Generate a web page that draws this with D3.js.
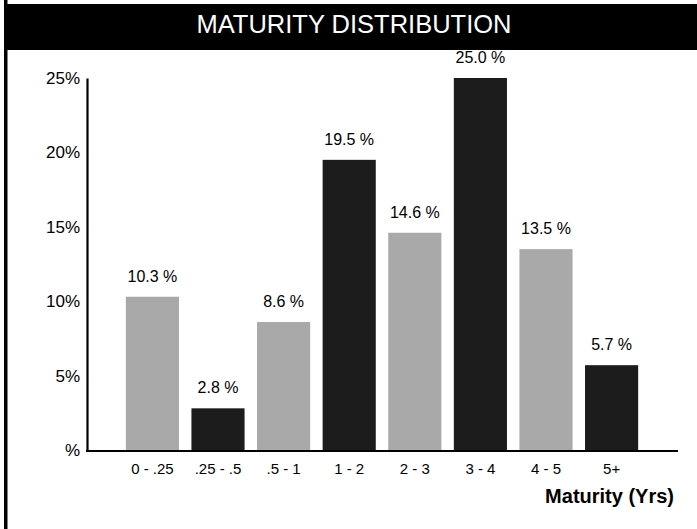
<!DOCTYPE html>
<html>
<head>
<meta charset="utf-8">
<script src="https://cdn.jsdelivr.net/npm/d3@7"></script>
<style>
  html, body { margin: 0; padding: 0; background: #fff; }
  svg { display: block; }
  text { font-family: "Liberation Sans", Arial, sans-serif; }
</style>
</head>
<body>
<svg id="chart" width="697" height="529"></svg>
<script>
// ---- data ----
const categories = ["0 - .25", ".25 - .5", ".5 - 1", "1 - 2", "2 - 3", "3 - 4", "4 - 5", "5+"];
const values = [10.3, 2.8, 8.6, 19.5, 14.6, 25.0, 13.5, 5.7];
const valueLabels = ["10.3 %", "2.8 %", "8.6 %", "19.5 %", "14.6 %", "25.0 %", "13.5 %", "5.7 %"];
const shades = ["light", "dark", "light", "dark", "light", "dark", "light", "dark"];
const yTickValues = [0, 5, 10, 15, 20, 25];
const yTickLabels = ["%", "5%", "10%", "15%", "20%", "25%"];
const title = "MATURITY DISTRIBUTION";
const xTitle = "Maturity (Yrs)";

// ---- drawing ----
const svg = d3.select("#chart");
const W = 697, H = 529;

const x = d3.scaleBand().domain(categories).range([116, 648]).paddingInner(0.19).paddingOuter(0.15);
const y = d3.scaleLinear().domain([0, 25]).range([450, 78]);
const fillFor = { light: "#a9a9a9", dark: "#1c1c1c" };

// left border
svg.append("rect").attr("x", 4).attr("y", 0).attr("width", 3.5).attr("height", H).attr("fill", "#000");

// title bar
svg.append("rect").attr("x", 7).attr("y", 4).attr("width", W - 7).attr("height", 46).attr("fill", "#000");
svg.append("text").attr("x", 354).attr("y", 33).attr("text-anchor", "middle")
  .attr("fill", "#fff").attr("font-size", 25.5).text(title);

// bars
svg.append("g").selectAll("rect").data(values).join("rect")
  .attr("x", (d, i) => x(categories[i]))
  .attr("y", d => y(d))
  .attr("width", x.bandwidth())
  .attr("height", d => y(0) - y(d))
  .attr("fill", (d, i) => fillFor[shades[i]]);

// value labels
svg.append("g").selectAll("text").data(values).join("text")
  .attr("x", (d, i) => x(categories[i]) + x.bandwidth() / 2)
  .attr("y", d => y(d) - 15)
  .attr("text-anchor", "middle")
  .attr("font-size", 16)
  .attr("fill", "#000")
  .text((d, i) => valueLabels[i]);

// y axis
const yAxis = svg.append("g").attr("transform", "translate(87,0)")
  .call(d3.axisLeft(y).tickValues(yTickValues).tickSize(0).tickPadding(7)
    .tickFormat((d, i) => yTickLabels[i]));
yAxis.select(".domain").attr("stroke", "#000").attr("stroke-width", 2.2);
yAxis.selectAll("text").attr("font-size", 17).attr("fill", "#000")
  .attr("font-family", "Liberation Sans, Arial, sans-serif");

// x axis
const xAxis = svg.append("g").attr("transform", "translate(0,451)")
  .call(d3.axisBottom(x).tickSize(0).tickPadding(12));
xAxis.select(".domain").remove();
xAxis.selectAll("text").attr("font-size", 15).attr("fill", "#000")
  .attr("font-family", "Liberation Sans, Arial, sans-serif");
svg.append("line").attr("x1", 86).attr("x2", 678).attr("y1", 451).attr("y2", 451)
  .attr("stroke", "#000").attr("stroke-width", 2.2);

// x title
svg.append("text").attr("x", 674).attr("y", 503).attr("text-anchor", "end")
  .attr("font-size", 20).attr("font-weight", "bold").attr("fill", "#000").text(xTitle);
</script>
</body>
</html>
